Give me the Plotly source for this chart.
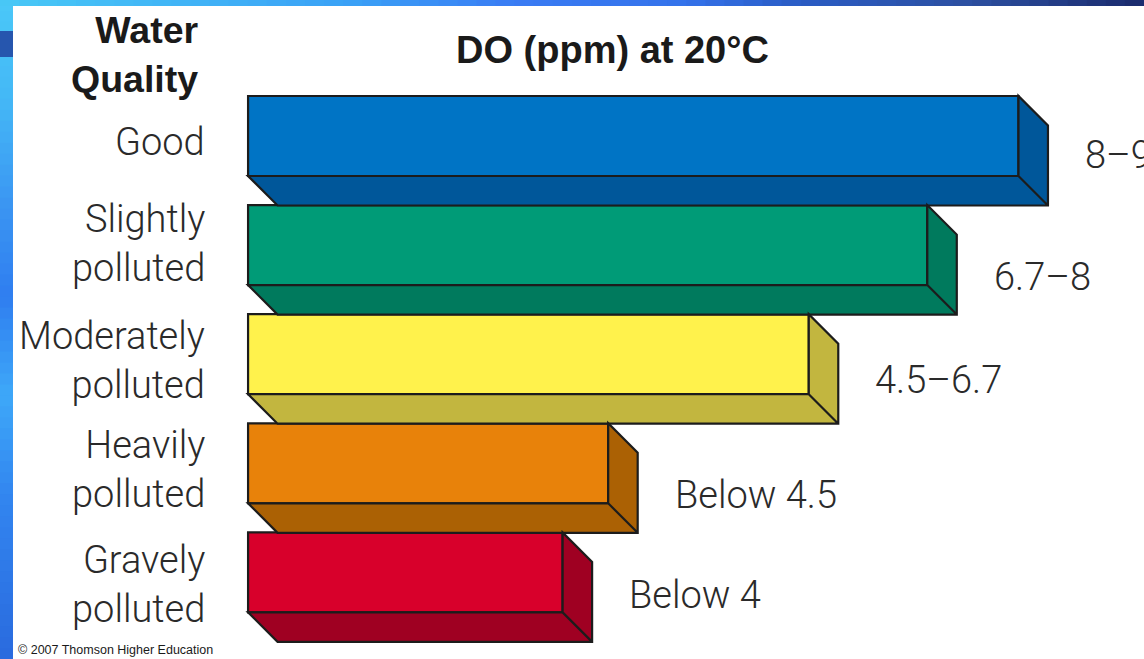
import plotly.graph_objects as go

# ---- data ----
quality = ["Good", "Slightly<br>polluted", "Moderately<br>polluted",
           "Heavily<br>polluted", "Gravely<br>polluted"]
do_upper = [9, 8, 6.7, 4.5, 4]          # upper DO value (ppm) of each class
do_labels = ["8–9", "6.7–8", "4.5–6.7", "Below 4.5", "Below 4"]

front_colors = ["#0074c5", "#009b77", "#fff24c", "#e8820a", "#d8002b"]
shade_colors = ["#00579a", "#007a5d", "#c2b63f", "#ab6104", "#9f0022"]

# ---- layout constants ----
W, H = 1144, 659
BASE = 0.55                 # DO level where the bars start
X_RANGE = [-2.171, 10.377]
Y_RANGE = [4.794, -1.2466]  # reversed: first class on top
BAR_W = 0.733
DEPTH = 29.5                # 3-D extrusion, pixels
HALF = 40                   # half bar thickness, pixels
OUTLINE = "#1c1c1c"
LIGHT = dict(family="Roboto, Liberation Sans, sans-serif", size=38,
             color="#2a2a2a", weight=300)
BOLD_TITLE = dict(family="Liberation Sans, Arial, sans-serif", size=38,
                  color="#1a1a1a", weight="bold")
BOLD_HEAD = dict(family="Liberation Sans, Arial, sans-serif", size=37.5,
                 color="#1a1a1a", weight="bold")
# vertical nudges (px) of the class names and value labels
name_shift = [-6, 2, -6, -6, -12]
value_shift = [-19, -32, -26, -32, -23]

px_per_unit = W / (X_RANGE[1] - X_RANGE[0])
dx = DEPTH / px_per_unit
ypos = list(range(len(quality)))

fig = go.Figure()

# front faces
fig.add_trace(go.Bar(
    orientation="h",
    y=ypos,
    x=[v - BASE for v in do_upper],
    base=BASE,
    width=BAR_W,
    marker=dict(color=front_colors, line=dict(color=OUTLINE, width=2.2)),
    hoverinfo="skip",
))

shapes = []


def lerp_hex(c1, c2, t):
    a = [int(c1[i:i + 2], 16) for i in (1, 3, 5)]
    b = [int(c2[i:i + 2], 16) for i in (1, 3, 5)]
    return "#" + "".join(f"{round(a[k] + (b[k] - a[k]) * t):02x}" for k in range(3))


def gradient_color(stops, f):
    for (p0, c0), (p1, c1) in zip(stops, stops[1:]):
        if p0 <= f <= p1:
            return lerp_hex(c0, c1, (f - p0) / (p1 - p0) if p1 > p0 else 0)
    return stops[-1][1]


# slide frame: left and top gradient strips (segments overlap to avoid seams)
left_stops = [(0, "#4ac8f8"), (0.15, "#44b8f6"), (0.32, "#3a94f2"), (0.45, "#2f7ef0"),
              (0.6, "#3ea8f8"), (0.75, "#3286f0"), (1.0, "#2a6ade")]
top_stops = [(0, "#48c8f6"), (0.3, "#3aa2f6"), (0.45, "#3a7cf4"), (0.6, "#3472ea"),
             (0.7, "#2a5cc4"), (0.85, "#2c4fa0"), (1.0, "#1a2a6c")]
N = 60
LEFT_W, TOP_H = 13, 6
for k in range(N):
    y_top = 1 - k / N
    y_bot = max(0, 1 - (k + 1.6) / N)
    shapes.append(dict(type="rect", xref="paper", yref="paper", layer="below",
                       x0=0, x1=LEFT_W / W, y0=y_bot, y1=y_top, line_width=0,
                       fillcolor=gradient_color(left_stops, (k + 0.5) / N)))
    shapes.append(dict(type="rect", xref="paper", yref="paper", layer="below",
                       x0=k / N, x1=min(1, (k + 1.6) / N), y0=1 - TOP_H / H, y1=1,
                       line_width=0,
                       fillcolor=gradient_color(top_stops, (k + 0.5) / N)))
shapes.append(dict(type="rect", xref="paper", yref="paper", layer="below",
                   x0=0, x1=LEFT_W / W, y0=1 - 57 / H, y1=1 - 31 / H,
                   line_width=0, fillcolor="#2656ae"))

# extruded side + bottom faces of each bar
for i, v in enumerate(do_upper):
    path = (f"M {BASE},{-HALF} L {v},{-HALF} L {v},{HALF} "
            f"L {v + dx},{HALF - DEPTH} L {v + dx},{-HALF - DEPTH} "
            f"L {BASE + dx},{-HALF - DEPTH} Z "
            f"M {v},{-HALF} L {v + dx},{-HALF - DEPTH}")
    shapes.append(dict(type="path", xref="x", yref="y", ysizemode="pixel",
                       yanchor=i, path=path, fillcolor=shade_colors[i],
                       line=dict(color=OUTLINE, width=2.2), layer="above"))

annotations = []
for i, (name, v, lab) in enumerate(zip(quality, do_upper, do_labels)):
    annotations.append(dict(text=name, xref="paper", x=207 / W, xanchor="right",
                            yref="y", y=i, yshift=name_shift[i], yanchor="middle",
                            align="right", showarrow=False, font=LIGHT))
    annotations.append(dict(text=lab, xref="x", x=v, xanchor="left",
                            xshift=DEPTH + 35, yref="y", y=i, yshift=value_shift[i],
                            yanchor="middle", showarrow=False, font=LIGHT))

annotations.append(dict(text="Water<br>Quality", xref="paper", yref="paper",
                        x=201 / W, y=1 - 54 / H, xanchor="right", yanchor="middle",
                        align="right", showarrow=False, font=BOLD_HEAD))
annotations.append(dict(text="DO (ppm) at 20°C", xref="paper", yref="paper",
                        x=612 / W, y=1 - 50 / H, xanchor="center", yanchor="middle",
                        showarrow=False, font=BOLD_TITLE))
annotations.append(dict(text="© 2007 Thomson Higher Education", xref="paper",
                        yref="paper", x=16 / W, y=1 - 650 / H, xanchor="left",
                        yanchor="middle", showarrow=False,
                        font=dict(family="Liberation Sans, Arial, sans-serif",
                                  size=12.5, color="#1a1a1a")))

fig.update_layout(
    width=W, height=H,
    margin=dict(l=0, r=0, t=0, b=0),
    paper_bgcolor="white", plot_bgcolor="white",
    showlegend=False,
    xaxis=dict(range=X_RANGE, visible=False, fixedrange=True),
    yaxis=dict(range=Y_RANGE, visible=False, fixedrange=True),
    shapes=shapes,
    annotations=annotations,
)

fig.write_html("out.html")
